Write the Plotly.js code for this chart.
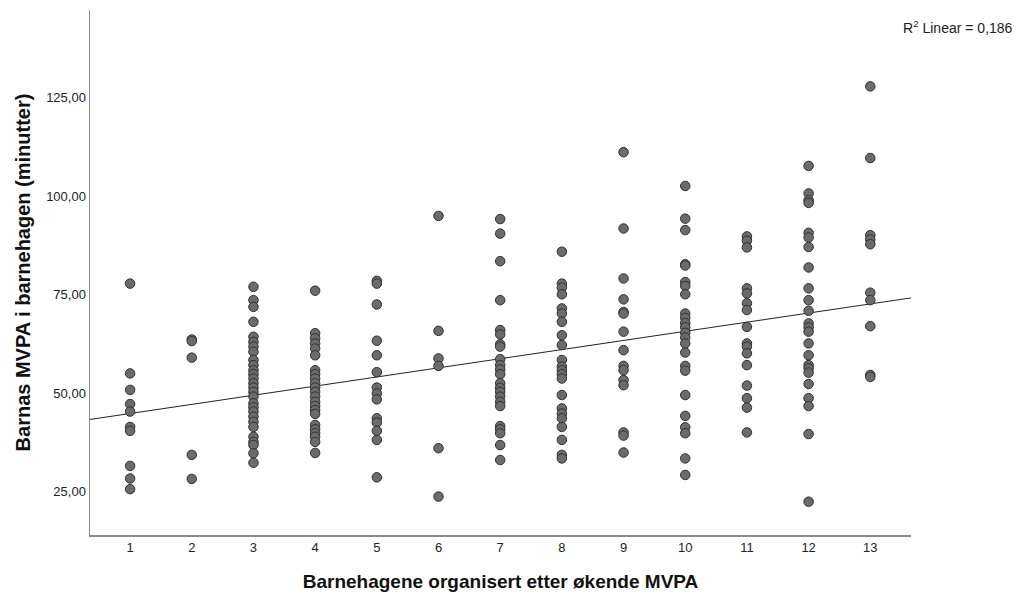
<!DOCTYPE html>
<html>
<head>
<meta charset="utf-8">
<script src="https://cdn.plot.ly/plotly-3.0.1.min.js"></script>
<style>
  html, body { margin: 0; padding: 0; background: #fff; }
  #chart { width: 1027px; height: 597px; }
</style>
</head>
<body>
<div id="chart"></div>
<script>
// Kindergartens ordered by increasing MVPA (x categories)
const gardens = [1, 2, 3, 4, 5, 6, 7, 8, 9, 10, 11, 12, 13];

// Children's MVPA (minutes) per kindergarten
const g1 = [77.8, 55.0, 50.8, 47.2, 45.3, 41.4, 40.4, 31.5, 28.3, 25.6];
const g2 = [63.6, 63.2, 59.0, 34.3, 28.2];
const g3 = [77.0, 73.6, 71.9, 68.1, 64.3, 63.0, 61.8, 60.5, 58.4, 57.1, 55.8, 54.8, 53.7, 52.5, 51.4, 50.3, 49.1, 47.4, 46.4, 45.3, 44.0, 42.7, 41.4, 38.9, 37.6, 36.8, 34.7, 32.3];
const g4 = [76.0, 65.2, 63.9, 62.6, 61.3, 59.6, 55.8, 54.8, 53.7, 52.5, 51.4, 50.3, 49.1, 47.8, 46.7, 45.7, 44.7, 41.9, 40.8, 39.8, 38.9, 37.6, 34.8];
const g5 = [78.5, 77.8, 72.5, 63.3, 59.6, 55.3, 51.4, 49.9, 48.4, 43.6, 42.5, 40.4, 38.1, 28.6];
const g6 = [95.0, 65.8, 58.8, 56.9, 36.0, 23.7];
const g7 = [94.2, 90.5, 83.5, 73.6, 66.0, 64.9, 62.4, 61.8, 58.6, 57.1, 56.0, 54.8, 52.5, 51.3, 50.3, 49.1, 47.8, 46.7, 41.6, 40.8, 39.8, 36.8, 33.0];
const g8 = [85.9, 77.8, 76.8, 75.1, 71.5, 70.2, 68.1, 64.7, 62.2, 58.4, 56.7, 55.8, 54.8, 53.7, 49.5, 46.1, 44.8, 43.6, 41.4, 38.1, 34.3, 33.4];
const g9 = [111.2, 91.8, 79.1, 73.8, 70.6, 70.2, 65.6, 60.9, 56.9, 55.8, 53.3, 52.0, 40.0, 39.2, 34.9];
const g10 = [102.6, 94.3, 91.4, 82.7, 82.4, 78.2, 77.2, 75.1, 70.2, 69.1, 67.8, 66.7, 65.3, 64.1, 62.6, 60.3, 56.9, 55.7, 49.5, 44.2, 41.3, 39.8, 33.4, 29.2];
const g11 = [89.8, 88.7, 87.0, 76.6, 75.3, 72.8, 71.1, 66.8, 62.6, 61.8, 60.1, 57.1, 51.9, 48.7, 46.3, 40.0];
const g12 = [107.7, 100.7, 99.0, 98.3, 90.7, 89.5, 87.1, 81.9, 76.6, 73.6, 70.9, 67.7, 66.7, 65.6, 62.6, 59.6, 57.1, 56.3, 55.2, 52.3, 48.7, 46.7, 39.6, 22.4];
const g13 = [127.9, 109.7, 90.1, 89.0, 87.8, 75.5, 73.6, 67.0, 54.6, 54.1];

const groups = [g1, g2, g3, g4, g5, g6, g7, g8, g9, g10, g11, g12, g13];
const yTicks = [25, 50, 75, 100, 125];
const r2Label = 'R<sup>2</sup> Linear = 0,186';
const xTitle = 'Barnehagene organisert etter økende MVPA';
const yTitle = 'Barnas MVPA i barnehagen (minutter)';

// flatten
const xs = [], ys = [];
groups.forEach((arr, i) => arr.forEach(v => { xs.push(gardens[i]); ys.push(v); }));

// least-squares fit line
const n = xs.length;
const mx = xs.reduce((a, b) => a + b, 0) / n;
const my = ys.reduce((a, b) => a + b, 0) / n;
let sxy = 0, sxx = 0;
for (let i = 0; i < n; i++) { sxy += (xs[i] - mx) * (ys[i] - my); sxx += (xs[i] - mx) ** 2; }
const slope = sxy / sxx;
const intercept = my - slope * mx;

const xRange = [0.35, 13.66];
const yRange = [13.95, 147.3];

const fitX = [xRange[0], xRange[1]];
const fitY = fitX.map(x => intercept + slope * x);

const traces = [
  {
    type: 'scatter', mode: 'lines', x: fitX, y: fitY,
    line: { color: '#222', width: 1 }, hoverinfo: 'skip', showlegend: false
  },
  {
    type: 'scatter', mode: 'markers', x: xs, y: ys,
    marker: { size: 9.5, color: '#6b6b6b', line: { color: '#303030', width: 1 } },
    showlegend: false
  }
];

const font = { family: 'Liberation Sans, Arial, sans-serif', color: '#222' };

const layout = {
  width: 1027, height: 597,
  margin: { l: 90, r: 116, t: 10, b: 62 },
  paper_bgcolor: '#fff', plot_bgcolor: '#fff',
  font: font,
  separators: ', ',
  showlegend: false,
  xaxis: {
    range: xRange, tickvals: gardens, ticktext: gardens.map(String),
    showgrid: false, zeroline: false, showline: true, linecolor: '#8a8a8a', linewidth: 1.5,
    ticks: '', tickfont: { size: 13, color: '#222' },
    title: { text: xTitle, font: { size: 19, color: '#111', weight: 'bold' }, standoff: 20 }
  },
  yaxis: {
    range: yRange, tickvals: yTicks, tickformat: '.2f',
    showgrid: false, zeroline: false, showline: true, linecolor: '#8a8a8a', linewidth: 1.5,
    ticks: '', tickfont: { size: 13, color: '#222' },
    title: { text: yTitle, font: { size: 20, color: '#111', weight: 'bold' }, standoff: 10 }
  },
  annotations: [
    { xref: 'paper', yref: 'paper', x: 1.1267, y: 0.9676, xanchor: 'right', yanchor: 'middle',
      text: r2Label, showarrow: false, font: { size: 14, color: '#222' } }
  ]
};

Plotly.newPlot('chart', traces, layout, { displayModeBar: false, staticPlot: true });
</script>
</body>
</html>
